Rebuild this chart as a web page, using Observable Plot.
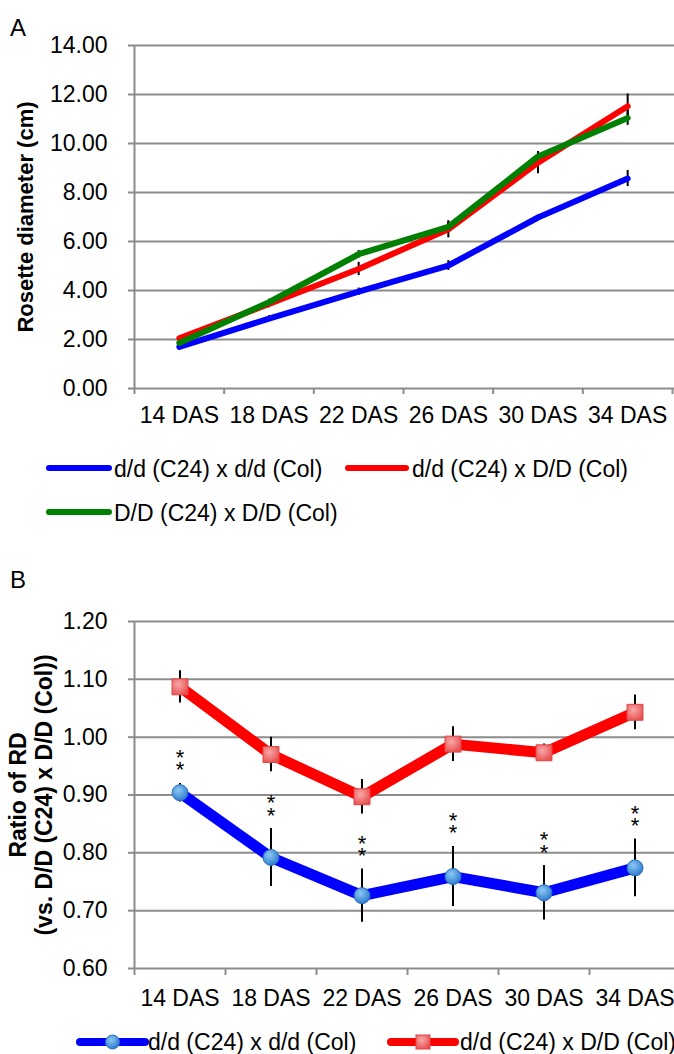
<!DOCTYPE html>
<html><head><meta charset="utf-8">
<script src="https://cdn.jsdelivr.net/npm/d3@7"></script>
<script src="https://cdn.jsdelivr.net/npm/@observablehq/plot@0.6"></script>
<style>
html,body{margin:0;padding:0;background:#fff;overflow:hidden;}
#wrap{position:relative;width:674px;height:1054px;overflow:hidden;font-family:"Liberation Sans",Arial,sans-serif;color:#000;}
.t{position:absolute;white-space:nowrap;font-size:23px;line-height:23px;}
.panel{position:absolute;font-size:24px;line-height:24px;}
.sw{position:absolute;overflow:visible;}
</style></head><body><div id="wrap"></div>
<script>
// ---------- data ----------
const days = ["14 DAS","18 DAS","22 DAS","26 DAS","30 DAS","34 DAS"];
const seriesA = ["d/d (C24) x d/d (Col)","d/d (C24) x D/D (Col)","D/D (C24) x D/D (Col)"];
const colorsA = ["#0000ff","#ff0000","#008000"];
const rdBlue  = [1.70,2.85,3.95,5.02,6.98,8.57];
const rdRed   = [2.05,3.45,4.88,6.50,9.22,11.52];
const rdGreen = [1.86,3.52,5.48,6.60,9.47,11.04];
const errBlue  = [0.08,0.12,0.15,0.20,0.10,0.33];
const errRed   = [0.08,0.15,0.27,0.35,0.45,0.50];
const errGreen = [0.08,0.12,0.15,0.20,0.20,0.30];
const yTicksA = [0,2,4,6,8,10,12,14];
const labelA = "Rosette diameter (cm)";

const seriesB = ["d/d (C24) x d/d (Col)","d/d (C24) x D/D (Col)"];
const ratioBlue = [0.904,0.792,0.726,0.759,0.731,0.774];
const ratioRed  = [1.087,0.970,0.897,0.988,0.973,1.043];
const errRatioBlue = [0.016,0.050,0.046,0.052,0.047,0.050];
const errRatioRed  = [0.028,0.030,0.030,0.030,0.015,0.030];
const signif = ["**","**","**","**","**","**"];
const yTicksB = [0.6,0.7,0.8,0.9,1.0,1.1,1.2];
const labelB = "Ratio of RD\n(vs. D/D (C24) x D/D (Col))";

// ---------- helpers ----------
const FONT = "Liberation Sans, Arial, sans-serif";
const GRID = "#8c8c8c";
const rows = (vals, errs, extra) => vals.map((v,i)=>({x:i+0.5, v, e:errs[i], ...(extra?{sig:extra[i]}:{})}));
const wrap = document.getElementById("wrap");
function place(el, left, top){ el.style.position="absolute"; el.style.left=left+"px"; el.style.top=top+"px"; wrap.appendChild(el); return el; }
function txt(s, left, baseline, cls="t"){ const d=document.createElement("div"); d.className=cls; d.textContent=s; const fs = cls==="t"?23:24; d.style.left=left+"px"; d.style.top=(baseline-(fs*0.905+(fs-fs*1.117)/2))+"px"; wrap.appendChild(d); return d; }

// ---------- Panel A ----------
const A = [rows(rdBlue,errBlue), rows(rdRed,errRed), rows(rdGreen,errGreen)];
const plotA = Plot.plot({
  width: 674, height: 430,
  marginLeft: 134, marginRight: 0, marginTop: 45, marginBottom: 42,
  style: {fontFamily: FONT, fontSize: "23px", color: "#000", background: "transparent", overflow: "hidden"},
  x: {type: "linear", domain: [0, 6], range: [134, 672]},
  y: {type: "linear", domain: [0, 14]},
  marks: [
    Plot.gridY(yTicksA, {stroke: GRID, strokeOpacity: 1, strokeWidth: 2}),
    Plot.ruleX([0], {stroke: GRID, strokeWidth: 2}),
    Plot.axisY(yTicksA, {tickSize: 6, tickPadding: 21, stroke: GRID, strokeWidth: 2, tickFormat: d3.format(".2f"), label: null, fontVariant: "normal"}),
    Plot.axisX(d3.range(0, 7), {tickSize: 6, stroke: GRID, strokeWidth: 2, tickFormat: () => "", label: null}),
    Plot.axisX(days.map((d,i)=>i+0.5), {tickSize: 0, tickPadding: 17.8, tickFormat: d => days[Math.floor(d)], label: null, fontVariant: "normal"}),
    ...A.map(r => Plot.ruleX(r, {x: "x", y1: d => d.v - d.e, y2: d => d.v + d.e, stroke: "#000", strokeWidth: 2})),
    ...A.map((r,s) => Plot.line(r, {x: "x", y: "v", stroke: colorsA[s], strokeWidth: 6, strokeLinecap: "round", strokeLinejoin: "round"})),
    Plot.text([labelA], {frameAnchor: "left", textAnchor: "middle", lineAnchor: "top", rotate: -90, dx: -117, fontWeight: "bold", fontSize: 22})
  ]
});
place(plotA, 0, 0);
txt("A", 10, 36, "panel");

// Legend A
function lineSwatch(x1, x2, y, color, w, marker){
  const ns="http://www.w3.org/2000/svg";
  const svg=document.createElementNS(ns,"svg");
  svg.setAttribute("class","sw"); svg.setAttribute("width",x2-x1+20); svg.setAttribute("height",30);
  svg.style.left=(x1-10)+"px"; svg.style.top=(y-15)+"px";
  let inner = `<defs>
   <radialGradient id="lgB" cx="40%" cy="35%" r="65%"><stop offset="0" stop-color="#8cc8f5"/><stop offset="1" stop-color="#2f7dcc"/></radialGradient>
   <radialGradient id="lgR" cx="40%" cy="35%" r="70%"><stop offset="0" stop-color="#f8a8a8"/><stop offset="1" stop-color="#e85050"/></radialGradient></defs>`;
  inner += `<line x1="10" x2="${x2-x1+10}" y1="15" y2="15" stroke="${color}" stroke-width="${w}" stroke-linecap="round"/>`;
  const cx=(x2-x1)/2+10;
  if(marker==="circle") inner += `<circle cx="${cx}" cy="15" r="7" fill="url(#lgB)" stroke="#2a6fbf" stroke-width="1"/>`;
  if(marker==="square") inner += `<rect x="${cx-7}" y="8" width="14" height="14" fill="url(#lgR)" stroke="#e04848" stroke-width="1"/>`;
  svg.innerHTML=inner; wrap.appendChild(svg);
}
lineSwatch(49,109,468,colorsA[0],6); txt(seriesA[0],114,477);
lineSwatch(348,406,468,colorsA[1],6); txt(seriesA[1],412,477);
lineSwatch(49,109,512,colorsA[2],6); txt(seriesA[2],114,521);

// ---------- Panel B ----------
const Bb = rows(ratioBlue, errRatioBlue, signif);
const Br = rows(ratioRed, errRatioRed);
const plotB = Plot.plot({
  width: 674, height: 460,
  marginLeft: 134, marginRight: 0, marginTop: 61, marginBottom: 52,
  style: {fontFamily: FONT, fontSize: "23px", color: "#000", background: "transparent", overflow: "hidden"},
  x: {type: "linear", domain: [0, 6], range: [134, 680]},
  y: {type: "linear", domain: [0.6, 1.2]},
  marks: [
    Plot.gridY(yTicksB, {stroke: GRID, strokeOpacity: 1, strokeWidth: 2}),
    Plot.ruleX([0], {stroke: GRID, strokeWidth: 2}),
    Plot.axisY(yTicksB, {tickSize: 6, tickPadding: 21, stroke: GRID, strokeWidth: 2, tickFormat: d3.format(".2f"), label: null, fontVariant: "normal"}),
    Plot.axisX(d3.range(0, 7), {tickSize: 7, stroke: GRID, strokeWidth: 2, tickFormat: () => "", label: null}),
    Plot.axisX(days.map((d,i)=>i+0.5), {tickSize: 0, tickPadding: 20.7, tickFormat: d => days[Math.floor(d)], label: null, fontVariant: "normal"}),
    Plot.ruleX(Br, {x: "x", y1: d => d.v - d.e, y2: d => d.v + d.e, stroke: "#000", strokeWidth: 2}),
    Plot.ruleX(Bb, {x: "x", y1: d => d.v - d.e, y2: d => d.v + d.e, stroke: "#000", strokeWidth: 2}),
    Plot.line(Br, {x: "x", y: "v", stroke: "#ff0000", strokeWidth: 11, strokeLinejoin: "round"}),
    Plot.line(Bb, {x: "x", y: "v", stroke: "#0000ff", strokeWidth: 11, strokeLinejoin: "round"}),
    Plot.dot(Br, {x: "x", y: "v", symbol: "square", r: 9, fill: "url(#gR)", stroke: "#e04848", strokeWidth: 1}),
    Plot.dot(Bb, {x: "x", y: "v", r: 8, fill: "url(#gB)", stroke: "#2a6fbf", strokeWidth: 1}),
    Plot.text(Bb, {x: "x", y: d => d.v + d.e, text: d => d.sig.split("").join("\n"), lineAnchor: "bottom", lineHeight: 0.55, fontSize: 22, dy: -6, fill: "#000"}),
    Plot.text([labelB], {frameAnchor: "left", textAnchor: "middle", lineAnchor: "top", lineHeight: 1.13, rotate: -90, dx: -127, fontWeight: "bold", fontSize: 23})
  ]
});
d3.select(plotB).insert("defs", ":first-child").html(`
  <radialGradient id="gB" cx="40%" cy="35%" r="65%"><stop offset="0" stop-color="#8cc8f5"/><stop offset="1" stop-color="#2f7dcc"/></radialGradient>
  <radialGradient id="gR" cx="40%" cy="35%" r="70%"><stop offset="0" stop-color="#f8a8a8"/><stop offset="1" stop-color="#e85050"/></radialGradient>`);
place(plotB, 0, 560);
txt("B", 10, 588, "panel");

// Legend B
lineSwatch(80,145,1042,"#0000ff",8,"circle"); txt(seriesB[0],148,1050);
lineSwatch(391,455,1042,"#ff0000",8,"square"); txt(seriesB[1],460,1050);
</script></body></html>
